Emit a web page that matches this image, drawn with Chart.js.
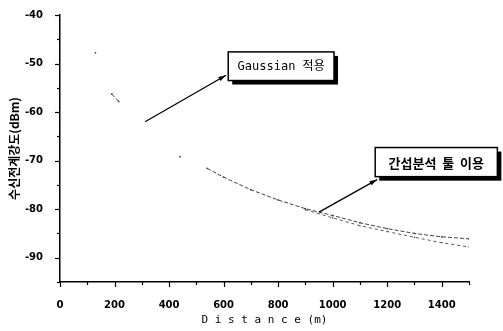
<!DOCTYPE html>
<html>
<head>
<meta charset="utf-8">
<script src="https://cdn.jsdelivr.net/npm/chart.js@4"></script>
<style>
  body { margin: 0; background: #fff; }
  #wrap { width: 503px; height: 331px; }
</style>
</head>
<body>
<div id="wrap"><canvas id="myChart"></canvas></div>
<script>
// distance (m) and received field strength (dBm)
var distance     = [130, 160, 190, 215, 330, 440, 490, 540, 600, 700, 800, 900, 1000, 1100, 1200, 1300, 1400, 1500];
var gaussian     = [-47.8, null, -56.3, -57.8, null, -69.2, null, -71.6, -73.4, -76.0, -78.1, -79.9, -81.3, -82.8, -84.0, -85.0, -85.7, -86.1];
var interference = [null, null, null, null, null, null, null, null, null, null, null, -80.1, -81.8, -83.4, -84.6, -85.8, -86.9, -87.8];

var xTicks = [0, 200, 400, 600, 800, 1000, 1200, 1400];
var yTicks = [-90, -80, -70, -60, -50, -40];

// annotation boxes + arrows, in data units
var notes = [
    { text: 'Gaussian 적용', font: '12px "DejaVu Sans Mono", "Noto Sans CJK KR"',
      box: [617, -47.6, 1005, -53.5], from: [312, -62.0], to: [609, -52.4] },
    { text: '간섭분석  툴  이용', font: 'bold 13px "Noto Sans CJK KR"',
      box: [1156, -67.3, 1604, -73.3], from: [950, -80.6], to: [1163, -73.9] }
];

function pts(ys) {
    return distance.map(function (d, i) { return { x: d, y: ys[i] }; });
}

var extras = {
    id: 'extras',
    afterDraw: function (chart) {
        var ctx = chart.ctx, xs = chart.scales.x, ys = chart.scales.y;
        var a = chart.chartArea;
        ctx.save();
        ctx.strokeStyle = '#000';
        ctx.lineWidth = 1.2;
        // ticks, major + minor
        for (var v = 0; v <= 1500; v += 100) {
            var px = Math.round(xs.getPixelForValue(v)) + 0.5;
            ctx.beginPath();
            ctx.moveTo(px, a.bottom);
            ctx.lineTo(px, a.bottom + (v % 200 === 0 ? 5 : 3));
            ctx.stroke();
        }
        for (var w = -95; w <= -40; w += 5) {
            var py = Math.round(ys.getPixelForValue(w)) + 0.5;
            ctx.beginPath();
            ctx.moveTo(a.left, py);
            ctx.lineTo(a.left - (w % 10 === 0 ? 5 : 3), py);
            ctx.stroke();
        }
        // notes
        notes.forEach(function (n) {
            var x1 = xs.getPixelForValue(n.box[0]), y1 = ys.getPixelForValue(n.box[1]);
            var x2 = xs.getPixelForValue(n.box[2]), y2 = ys.getPixelForValue(n.box[3]);
            ctx.fillStyle = '#000';
            ctx.fillRect(x1 + 4, y1 + 4, x2 - x1, y2 - y1);
            ctx.fillStyle = '#fff';
            ctx.fillRect(x1, y1, x2 - x1, y2 - y1);
            ctx.lineWidth = 1.5;
            ctx.strokeRect(x1, y1, x2 - x1, y2 - y1);
            ctx.fillStyle = '#000';
            ctx.font = n.font;
            ctx.textAlign = 'center';
            ctx.textBaseline = 'middle';
            ctx.fillText(n.text, (x1 + x2) / 2, (y1 + y2) / 2 + 1);

            var fx = xs.getPixelForValue(n.from[0]), fy = ys.getPixelForValue(n.from[1]);
            var tx = xs.getPixelForValue(n.to[0]), ty = ys.getPixelForValue(n.to[1]);
            ctx.lineWidth = 1.3;
            ctx.beginPath();
            ctx.moveTo(fx, fy);
            ctx.lineTo(tx, ty);
            ctx.stroke();
            var ang = Math.atan2(ty - fy, tx - fx);
            ctx.beginPath();
            ctx.moveTo(tx, ty);
            ctx.lineTo(tx - 8 * Math.cos(ang - 0.3), ty - 8 * Math.sin(ang - 0.3));
            ctx.lineTo(tx - 8 * Math.cos(ang + 0.3), ty - 8 * Math.sin(ang + 0.3));
            ctx.closePath();
            ctx.fill();
        });
        ctx.restore();
    }
};

var ctx = document.getElementById('myChart').getContext('2d');
var myChart = new Chart(ctx, {
    type: 'line',
    data: {
        datasets: [{
            label: 'Gaussian',
            data: pts(gaussian),
            borderColor: '#444',
            backgroundColor: '#444',
            borderWidth: 1,
            borderDash: [4, 2],
            pointRadius: 0.9,
            pointBorderWidth: 0,
            spanGaps: false,
            tension: 0
        }, {
            label: 'interference',
            data: pts(interference),
            borderColor: '#555',
            backgroundColor: '#555',
            borderWidth: 1,
            borderDash: [3, 3],
            pointRadius: 0.8,
            pointBorderWidth: 0,
            spanGaps: false,
            tension: 0
        }]
    },
    options: {
        responsive: true,
        maintainAspectRatio: false,
        animation: false,
        layout: { padding: { left: 0, top: 12, right: 34, bottom: 0 } },
        plugins: { legend: { display: false }, tooltip: { enabled: false } },
        scales: {
            x: {
                type: 'linear',
                min: 0,
                max: 1500,
                afterBuildTicks: function (s) { s.ticks = xTicks.map(function (v) { return { value: v }; }); },
                afterFit: function (s) { s.height = 49; },
                grid: { display: false },
                border: { display: true, color: '#000', width: 1.5 },
                ticks: {
                    color: '#000', padding: 9, maxRotation: 0,
                    callback: function (v) { return String(v); },
                    font: { family: 'DejaVu Sans', size: 10, weight: 'bold' }
                },
                title: {
                    display: true,
                    text: 'D i s t a n c e (m)',
                    color: '#000',
                    padding: { top: 0, bottom: 4 },
                    font: { family: 'DejaVu Sans Mono', size: 11 }
                }
            },
            y: {
                min: -95,
                max: -40,
                afterBuildTicks: function (s) { s.ticks = yTicks.map(function (v) { return { value: v }; }); },
                afterFit: function (s) { s.width = 60; },
                grid: { display: false },
                border: { display: true, color: '#000', width: 1.5 },
                ticks: {
                    color: '#000', padding: 9,
                    callback: function (v) { return String(v); },
                    font: { family: 'DejaVu Sans', size: 10, weight: 'bold' }
                },
                title: {
                    display: true,
                    text: '수신전계강도(dBm)',
                    color: '#000',
                    padding: { top: 7, bottom: 0 },
                    font: { family: 'Noto Sans CJK KR', size: 12, weight: 'bold' }
                }
            }
        }
    },
    plugins: [extras]
});
</script>
</body>
</html>
